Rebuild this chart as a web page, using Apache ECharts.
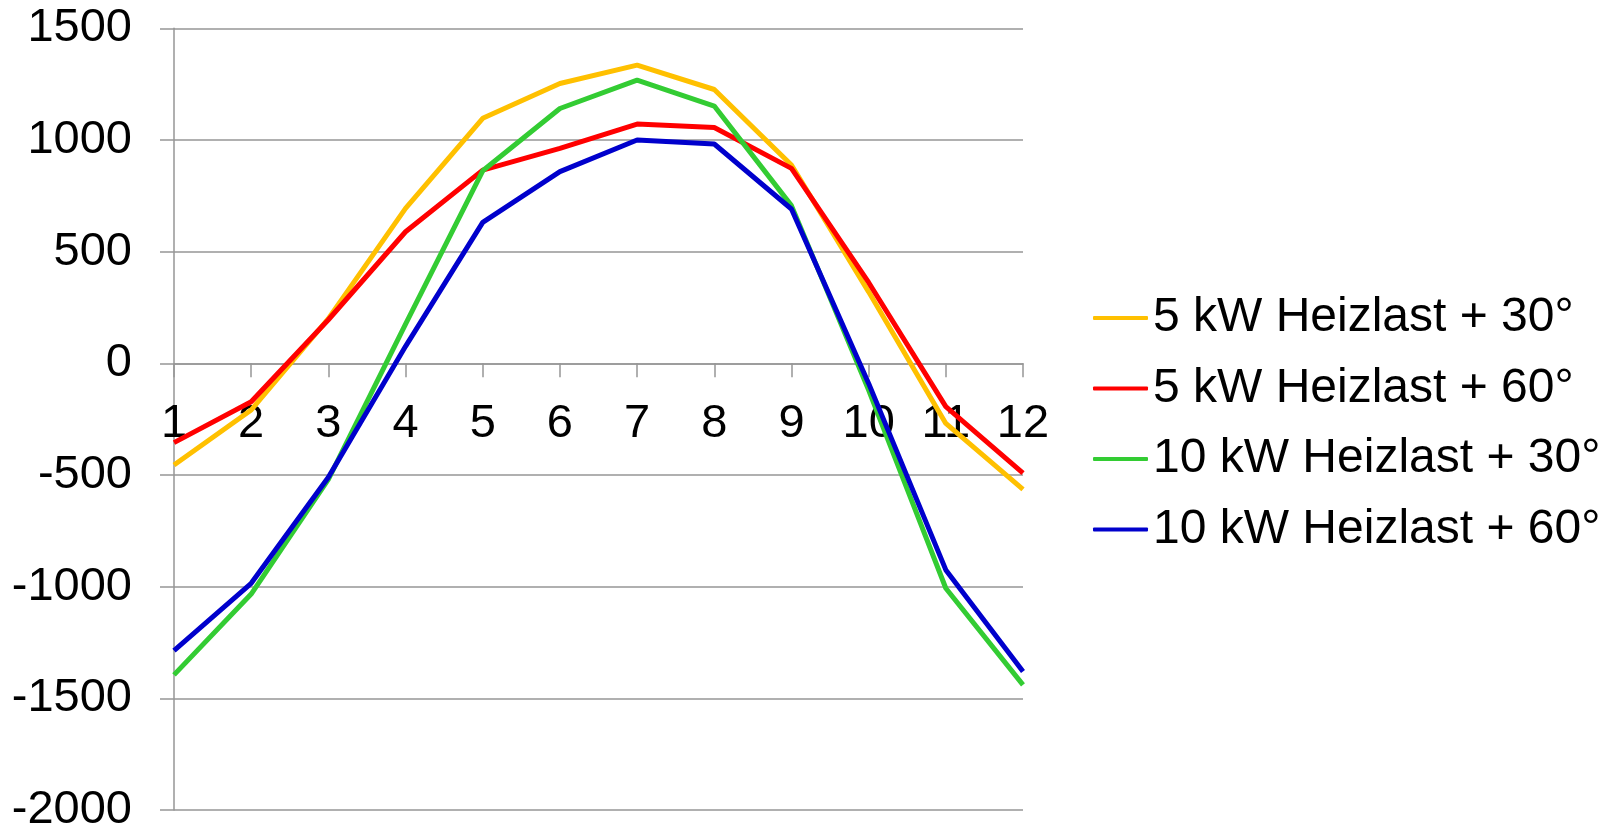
<!DOCTYPE html>
<html>
<head>
<meta charset="utf-8">
<script src="https://cdn.jsdelivr.net/npm/echarts@6/dist/echarts.min.js"></script>
<style>
html,body{margin:0;padding:0;background:#fff;}
#c{width:1610px;height:833px;}
</style>
</head>
<body>
<div id="c"></div>
<script>
var categories = ['1','2','3','4','5','6','7','8','9','10','11','12'];
var seriesNames = ['5 kW Heizlast + 30°','5 kW Heizlast + 60°','10 kW Heizlast + 30°','10 kW Heizlast + 60°'];
var s5kw30 = [-455, -209, 200, 694, 1097, 1253, 1335, 1226, 888, 320, -269, -564];
var s5kw60 = [-355, -172, 195, 589, 865, 962, 1071, 1056, 873, 362, -194, -492];
var s10kw30 = [-1395, -1033, -520, 175, 862, 1141, 1268, 1152, 706, -120, -1007, -1440];
var s10kw60 = [-1286, -985, -510, 76, 631, 858, 1000, 982, 691, -90, -925, -1380];
var colors = ['#FFC000','#FF0000','#33CC33','#0000CC'];
var allData = [s5kw30, s5kw60, s10kw30, s10kw60];

var font = 'Liberation Sans, Arial, sans-serif';
var gridColor = '#969696';

var gridTop = 28.3, gridBottomPx = 810;
var yMin = -2000, yMax = 1500;
var zeroOffset = (gridBottomPx - gridTop) * (0 - yMin) / (yMax - yMin);

var chart = echarts.init(document.getElementById('c'));
chart.setOption({
  animation: false,
  backgroundColor: '#ffffff',
  grid: { left: 174, right: 587, top: gridTop, bottom: 833 - gridBottomPx, containLabel: false, outerBoundsMode: 'none' },
  legend: {
    orient: 'vertical',
    left: 1093,
    top: 294,
    padding: 0,
    icon: 'roundRect',
    itemWidth: 55,
    itemHeight: 4,
    itemGap: 22.5,
    data: seriesNames,
    textStyle: { fontFamily: font, fontSize: 48, color: '#000', lineHeight: 48 }
  },
  xAxis: {
    type: 'category',
    data: categories,
    boundaryGap: false,
    offset: -zeroOffset,
    axisLine: { onZero: false, lineStyle: { color: gridColor, width: 1.5 } },
    axisTick: { show: true, length: 14, lineStyle: { color: gridColor, width: 1.5 } },
    axisLabel: { fontFamily: font, fontSize: 47, color: '#000', margin: 37, interval: 0 },
    splitLine: { show: false }
  },
  yAxis: {
    type: 'value',
    min: yMin,
    max: yMax,
    interval: 500,
    axisLine: { show: true, lineStyle: { color: gridColor, width: 1.5 } },
    axisTick: { show: true, length: 14, lineStyle: { color: gridColor, width: 1.5 } },
    axisLabel: { fontFamily: font, fontSize: 47, color: '#000', margin: 42, formatter: function (v) { return String(v); } },
    splitLine: { show: true, lineStyle: { color: gridColor, width: 1.5 } }
  },
  series: allData.map(function (d, i) {
    return {
      name: seriesNames[i],
      type: 'line',
      data: d,
      symbol: 'none',
      lineStyle: { color: colors[i], width: 5 },
      itemStyle: { color: colors[i] }
    };
  })
});
</script>
</body>
</html>
